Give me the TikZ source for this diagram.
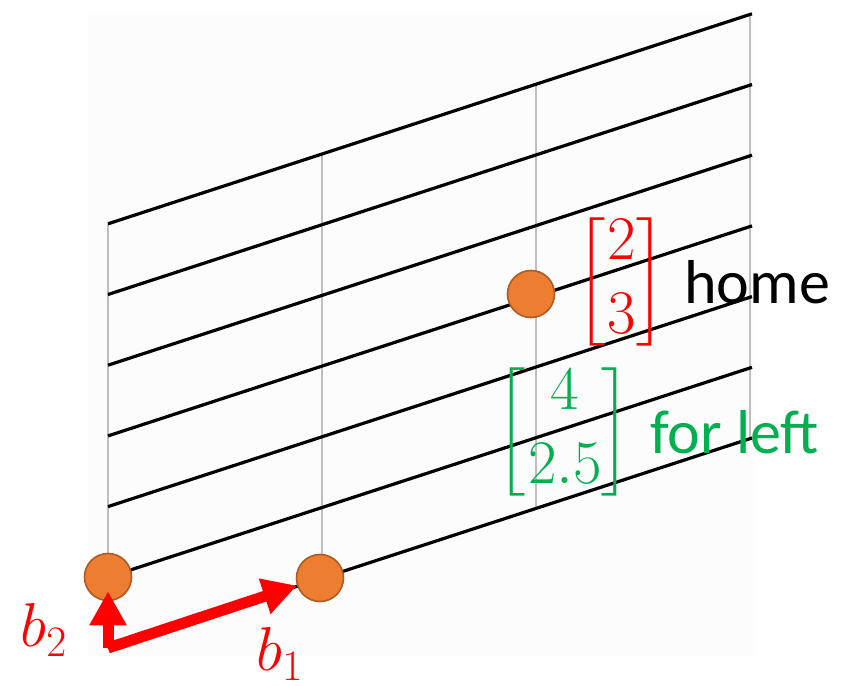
\RequirePackage{fix-cm}
\documentclass[tikz,border=0pt]{standalone}
\usepackage{amsmath}
\usepackage{graphicx}
\usepackage[no-math]{fontspec}
\setmainfont{Carlito}
\usetikzlibrary{arrows.meta,positioning}
\definecolor{BasRed}{RGB}{255,0,0}
\definecolor{BasGreen}{RGB}{0,176,80}
\definecolor{BasOrange}{RGB}{237,125,49}
\definecolor{BasOrangeDark}{RGB}{174,90,33}
\definecolor{BasGridGray}{RGB}{190,190,190}
\definecolor{BasPaper}{RGB}{252,252,252}
% bracket a bit shorter than \left...\right would give
\newcommand{\basbrk}[1]{\vcenter{\hbox{\scalebox{1}[0.86]{$\left#1\vphantom{\begin{matrix}0\\0\end{matrix}}\right.$}}}}
\newcommand{\bascol}[2]{$\basbrk[\smash{\begin{matrix}#1\\#2\end{matrix}}\basbrk]$}
\tikzset{
  bas/axis/.style={draw=BasGridGray, line width=0.7pt},
  bas/line/.style={draw=black, line width=1.6pt},
  bas/dot/.style={
    circle,
    draw=BasOrangeDark,
    line width=0.8pt,
    fill=BasOrange,
    minimum size=23.5pt,
    inner sep=0pt
  },
  bas/vec/.style={-{Triangle[length=17pt,width=17.5pt]}, line width=5.5pt, draw=BasRed},
  bas/lab/.style={inner sep=0pt, font=\fontsize{31}{37}\selectfont}
}

\begin{document}
\begin{tikzpicture}[x=0.5pt,y=-0.5pt]
  \useasboundingbox (0,0) rectangle (853,686);
  \fill[BasPaper] (88,12) rectangle (756,656);
  % lattice spanned by b1 and b2
  \foreach \i in {0,...,3}
    \draw[bas/axis] ({108+214*\i},{648-70*\i}) -- ++(0,-424);
  \foreach \j in {0,...,6}
    \draw[bas/line] (108,{648-70.7*\j}) -- ++(644,-210);
  \coordinate (origin) at (108,648);
  \node[bas/dot] (e2) at (108,577) {};
  \node[bas/dot] (e1) at (320,578) {};
  \node[bas/dot] (home) at (531,294) {};
  \draw[bas/vec, shorten >=-5pt] (origin) -- (e2);
  \draw[bas/vec] (origin) -- (e1);
  \node[bas/lab, text=BasRed] (b2lab) at (44,630) {$b_2$};
  \node[bas/lab, text=BasRed] (b1lab) at (280,654) {$b_1$};
  \node[bas/lab, text=BasRed] (homevec) at (622,282) {\bascol{2}{3}};
  \node[bas/lab, right=8pt of homevec] (hometxt) {home};
  \node[bas/lab, text=BasGreen] (leftvec) at (565,432) {\bascol{4}{2.5}};
  \node[bas/lab, text=BasGreen, right=8pt of leftvec] (lefttxt) {for left};
\end{tikzpicture}
\end{document}
